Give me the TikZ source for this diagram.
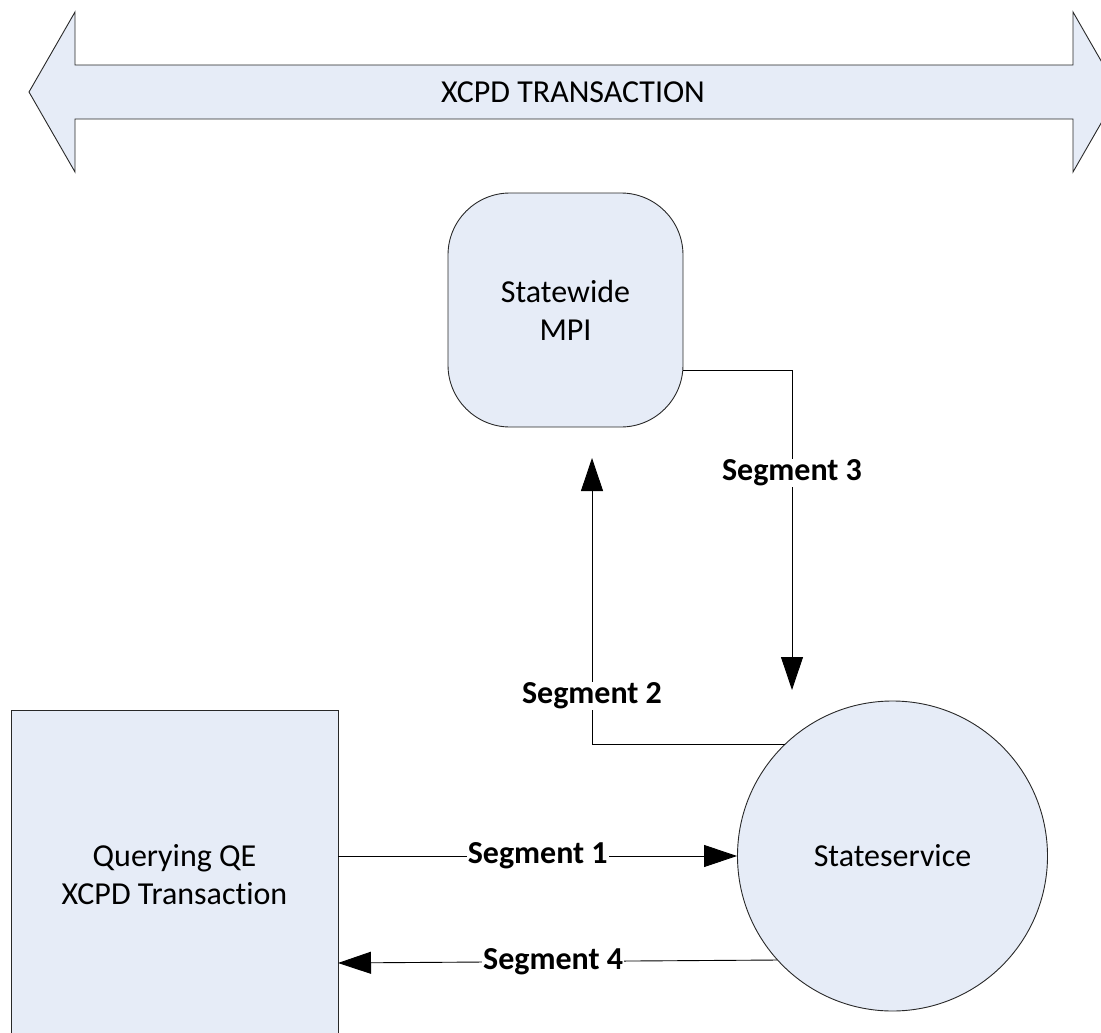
\documentclass[tikz,border=0pt]{standalone}
\usepackage{fontspec}
\setmainfont[Ligatures={NoCommon}]{Carlito}
\usetikzlibrary{arrows.meta}
\definecolor{boxfill}{RGB}{230,236,247}
\definecolor{edge}{RGB}{40,40,40}
\tikzset{
  shapebox/.style={draw=edge, line width=0.9pt, fill=boxfill, align=center, font=\fontsize{32}{38}\selectfont},
  conn/.style={draw=black, line width=0.9pt},
  arr/.style={conn, -{Triangle[length=33pt,width=22pt]}},
  seglabel/.style={fill=white, inner sep=1pt, font=\fontsize{32}{38}\selectfont\bfseries}
}
\begin{document}
\begin{tikzpicture}[x=1pt,y=-1pt]
\useasboundingbox (0,0) rectangle (1101,1033);
% big double arrow
\draw[draw=edge, line width=0.9pt, fill=boxfill] (29,92) -- (75,12) -- (75,65) -- (1073,65) -- (1073,12) -- (1119,92) -- (1073,172) -- (1073,119) -- (75,119) -- (75,172) -- cycle;
\node[font=\fontsize{32}{38}\selectfont] (xcpd) at (573,92) {XCPD TRANSACTION};
% nodes
\node[shapebox, rounded corners=62pt, minimum width=235pt, minimum height=234pt] (mpi) at (565.5,310) {Statewide\\MPI};
\node[shapebox, minimum width=327pt, minimum height=330pt] (qe) at (174.5,875) {Querying QE\\XCPD Transaction};
\node[shapebox, circle, minimum size=310pt, inner sep=0pt] (ss) at (892.5,856) {Stateservice};
% coordinates
\coordinate (m2) at (592,458);
\coordinate (m3) at (792,690);
\coordinate (q4) at (338,963);
% connectors
\draw[arr] (qe.east |- ss.west) -- node[seglabel] (s1) {Segment 1} (ss.west);
\draw[arr] (ss.{-138.4}) -- node[seglabel, pos=0.51] (s4) {Segment 4} (q4);
\draw[arr] (ss.{134.3}) -| node[seglabel, pos=0.584] (s2) {Segment 2} (m2);
\draw[arr] (mpi.east |- 0,370) -| node[seglabel, pos=0.661] (s3) {Segment 3} (m3);
\end{tikzpicture}
\end{document}
